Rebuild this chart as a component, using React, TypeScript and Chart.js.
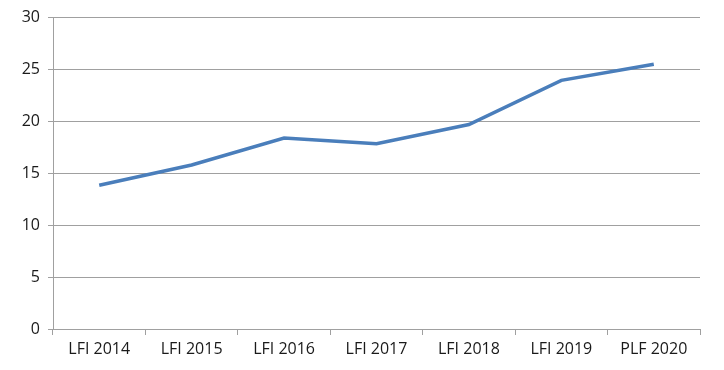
import React, { useEffect, useRef } from "react";
import { Chart, registerables } from "chart.js";

Chart.register(...registerables);

const categories = ["LFI 2014", "LFI 2015", "LFI 2016", "LFI 2017", "LFI 2018", "LFI 2019", "PLF 2020"];
const values = [13.85, 15.8, 18.4, 17.85, 19.7, 23.95, 25.5];
const yTicks = [0, 5, 10, 15, 20, 25, 30];

export default function App() {
  const ref = useRef<HTMLCanvasElement | null>(null);
  useEffect(() => {
    document.body.style.margin = "0";
    const ctx = ref.current!;
    const chart = new Chart(ctx, {
      type: "line",
      data: {
        labels: categories,
        datasets: [
          {
            data: values,
            borderColor: "#4A7EBB",
            borderWidth: 3.5,
            pointRadius: 0,
            tension: 0,
            fill: false,
          },
        ],
      },
      options: {
        responsive: false,
        animation: false,
        devicePixelRatio: 1,
        layout: { padding: { top: 17, right: 24, left: 0, bottom: 0 } },
        plugins: { legend: { display: false }, tooltip: { enabled: false } },
        scales: {
          x: {
            offset: true,
            grid: {
              offset: true,
              drawOnChartArea: false,
              drawTicks: true,
              tickLength: 6,
              color: "#A0A0A0",
            },
            border: { color: "#A0A0A0", width: 1 },
            ticks: {
              color: "#1a1a1a",
              font: { family: "'Open Sans'", size: 16 },
              padding: 5,
              maxRotation: 0,
              autoSkip: false,
            },
            afterFit: (s: any) => {
              s.height = 41;
            },
          },
          y: {
            min: 0,
            max: 30,
            afterBuildTicks: (s: any) => {
              s.ticks = yTicks.map((v) => ({ value: v }));
            },
            grid: {
              color: "#A0A0A0",
              tickLength: 5,
              drawTicks: true,
            },
            border: { color: "#A0A0A0", width: 1 },
            ticks: {
              color: "#1a1a1a",
              font: { family: "'Open Sans'", size: 16 },
              padding: 8,
            },
            afterFit: (s: any) => {
              s.width = 53;
            },
          },
        },
      },
    });
    return () => chart.destroy();
  }, []);
  return (
    <div style={{ width: 724, height: 370 }}>
      <canvas ref={ref} width={724} height={370} style={{ display: "block" }} />
    </div>
  );
}
